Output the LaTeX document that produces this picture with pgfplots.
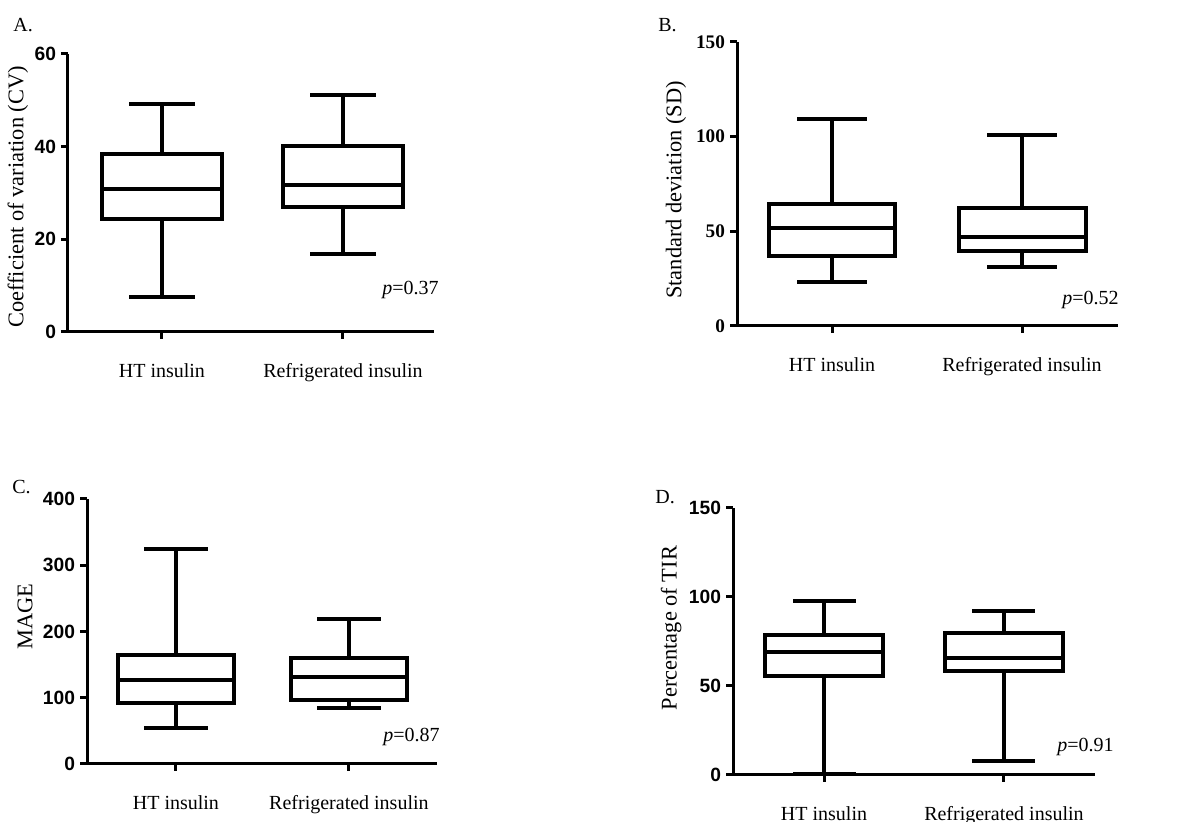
\documentclass[border=0pt]{standalone}
\usepackage{fontspec}
\setmainfont{Liberation Serif}
\newfontfamily\ticksans{Liberation Sans}
\usepackage{pgfplots}
\pgfplotsset{compat=1.18}
\pgfplotsset{
  panel/.style={
    scale only axis,
    anchor=south west,
    axis x line=bottom, axis y line=left,
    axis line style={-, line width=1.5pt},
    tick style={line width=1.5pt, black},
    major tick length=3.5pt,
    tick align=outside,
    xtick={0,1},
    xticklabels={HT insulin, Refrigerated insulin},
    xticklabel style={font=\fontsize{10}{12}\selectfont, anchor=base, yshift=-19.1pt},
    yticklabel style={font=\fontsize{9.6}{10}\selectfont\ticksans\bfseries, xshift=1pt},
    /pgf/number format/assume math mode=true,
    ylabel style={font=\fontsize{11.2}{13}\selectfont, anchor=center},
    unbounded coords=jump,
    clip=false,
  },
  bx/.style={black, line width=2pt, solid, no markers, line cap=rect, line join=miter},
}
\begin{document}
\begin{tikzpicture}
% ---------------- A ----------------
\begin{axis}[panel, at={(34pt,245pt)}, width=183pt, height=139pt,
  xmin=-0.519, xmax=1.503, ymin=0, ymax=60, ytick={0,20,40,60},
  ylabel={Coefficient of variation (CV)},
  ylabel style={at={(axis description cs:-0.137,0.486)}}]
% HT insulin: whiskers 7.6 / 49.2, quartiles 24.4 / 38.4, median 30.9
\addplot[bx] coordinates {(-0.3315,24.4) (0.3315,24.4) (0.3315,38.4) (-0.3315,38.4) (-0.3315,24.4) (nan,nan)
  (-0.3315,30.9) (0.3315,30.9) (nan,nan) (0,38.4) (0,49.2) (nan,nan) (-0.1715,49.2) (0.1715,49.2) (nan,nan)
  (0,24.4) (0,7.6) (nan,nan) (-0.1715,7.6) (0.1715,7.6)};
% Refrigerated: 16.9 / 26.9 / 31.7 / 40.2 / 51.2
\addplot[bx] coordinates {(0.6685,26.9) (1.3315,26.9) (1.3315,40.2) (0.6685,40.2) (0.6685,26.9) (nan,nan)
  (0.6685,31.7) (1.3315,31.7) (nan,nan) (1,40.2) (1,51.2) (nan,nan) (0.8285,51.2) (1.1715,51.2) (nan,nan)
  (1,26.9) (1,16.9) (nan,nan) (0.8285,16.9) (1.1715,16.9)};
\end{axis}
% ---------------- B ----------------
\begin{axis}[panel, at={(368.5pt,248pt)}, width=190.5pt, height=142pt,
  xmin=-0.5, xmax=1.505, ymin=0, ymax=150, ytick={0,50,100,150},
  yticklabel style={font=\fontsize{9.6}{10}\selectfont\rmfamily\bfseries},
  ylabel={Standard deviation (SD)},
  ylabel style={at={(axis description cs:-0.160,0.479)}}]
% HT: 23.3 / 36.7 / 51.5 / 64.3 / 109.3
\addplot[bx] coordinates {(-0.334,36.7) (0.334,36.7) (0.334,64.3) (-0.334,64.3) (-0.334,36.7) (nan,nan)
  (-0.334,51.5) (0.334,51.5) (nan,nan) (0,64.3) (0,109.3) (nan,nan) (-0.1735,109.3) (0.1735,109.3) (nan,nan)
  (0,36.7) (0,23.3) (nan,nan) (-0.1735,23.3) (0.1735,23.3)};
% Refrigerated: 31.4 / 39.8 / 46.9 / 62.2 / 101
\addplot[bx] coordinates {(0.666,39.8) (1.334,39.8) (1.334,62.2) (0.666,62.2) (0.666,39.8) (nan,nan)
  (0.666,46.9) (1.334,46.9) (nan,nan) (1,62.2) (1,101) (nan,nan) (0.8265,101) (1.1735,101) (nan,nan)
  (1,39.8) (1,31.4) (nan,nan) (0.8265,31.4) (1.1735,31.4)};
\end{axis}
% ---------------- C ----------------
\begin{axis}[panel, at={(43.5pt,29pt)}, width=175pt, height=132.5pt,
  xmin=-0.514, xmax=1.509, ymin=0, ymax=400, ytick={0,100,200,300,400},
  ylabel={MAGE},
  ylabel style={at={(axis description cs:-0.177,0.555)}}]
% HT: 54 / 92 / 127 / 165 / 324
\addplot[bx] coordinates {(-0.335,92) (0.335,92) (0.335,165) (-0.335,165) (-0.335,92) (nan,nan)
  (-0.335,127) (0.335,127) (nan,nan) (0,165) (0,324) (nan,nan) (-0.1735,324) (0.1735,324) (nan,nan)
  (0,92) (0,54) (nan,nan) (-0.1735,54) (0.1735,54)};
% Refrigerated: 85 / 96 / 131 / 160 / 219
\addplot[bx] coordinates {(0.665,96) (1.335,96) (1.335,160) (0.665,160) (0.665,96) (nan,nan)
  (0.665,131) (1.335,131) (nan,nan) (1,160) (1,219) (nan,nan) (0.8265,219) (1.1735,219) (nan,nan)
  (1,96) (1,85) (nan,nan) (0.8265,85) (1.1735,85)};
\end{axis}
% ---------------- D ----------------
\begin{axis}[panel, at={(366.5pt,23.5pt)}, width=181pt, height=133.5pt,
  xmin=-0.506, xmax=1.506, ymin=0, ymax=150, ytick={0,50,100,150},
  ylabel={Percentage of TIR},
  ylabel style={at={(axis description cs:-0.171,0.55)}}]
% HT: 0.5 / 55.5 / 69.2 / 78.9 / 97.8
\addplot[bx] coordinates {(-0.328,55.5) (0.328,55.5) (0.328,78.9) (-0.328,78.9) (-0.328,55.5) (nan,nan)
  (-0.328,69.2) (0.328,69.2) (nan,nan) (0,78.9) (0,97.8) (nan,nan) (-0.164,97.8) (0.164,97.8) (nan,nan)
  (0,55.5) (0,0.5) (nan,nan) (-0.164,0.5) (0.164,0.5)};
% Refrigerated: 8 / 58.5 / 65.5 / 79.5 / 92
\addplot[bx] coordinates {(0.672,58.5) (1.328,58.5) (1.328,79.5) (0.672,79.5) (0.672,58.5) (nan,nan)
  (0.672,65.5) (1.328,65.5) (nan,nan) (1,79.5) (1,92) (nan,nan) (0.836,92) (1.164,92) (nan,nan)
  (1,58.5) (1,8) (nan,nan) (0.836,8) (1.164,8)};
\end{axis}
% ---------------- letters & p values ----------------
\begin{scope}[every node/.style={font=\fontsize{10}{12}\selectfont, inner sep=0pt}]
\node[anchor=west] at (6.5pt,398.3pt) {A.};
\node[anchor=west] at (329pt,398.3pt) {B.};
\node[anchor=west] at (6pt,167.5pt) {C.};
\node[anchor=west] at (327.5pt,162.5pt) {D.};
\node[anchor=west] at (191pt,266pt) {\textit{p}=0.37};
\node[anchor=west] at (531pt,261pt) {\textit{p}=0.52};
\node[anchor=west] at (191.5pt,42.5pt) {\textit{p}=0.87};
\node[anchor=west] at (528.5pt,37.5pt) {\textit{p}=0.91};
\end{scope}
\pgfresetboundingbox
\useasboundingbox (0,0) rectangle (592pt,411pt);
\end{tikzpicture}
\end{document}
